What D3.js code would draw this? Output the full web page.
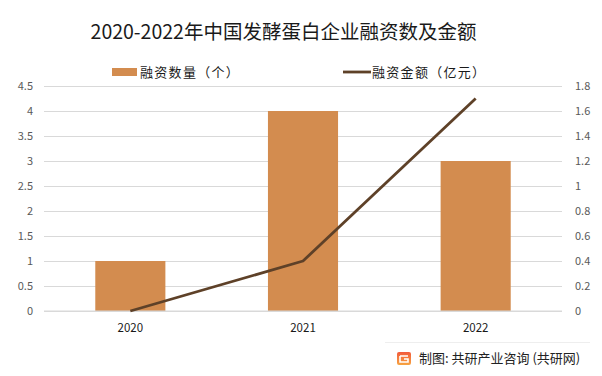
<!DOCTYPE html>
<html><head><meta charset="utf-8">
<script src="https://cdn.jsdelivr.net/npm/d3@7"></script>
<style>body{margin:0;background:#fff}svg{display:block}</style>
</head><body><svg id="c" width="602" height="376"></svg>
<script>
const categories = ["2020", "2021", "2022"];
const counts = [1, 4, 3];
const amounts = [0, 0.4, 1.7];
const leftTicks = [0, 0.5, 1, 1.5, 2, 2.5, 3, 3.5, 4, 4.5];
const rightTicks = [0, 0.2, 0.4, 0.6, 0.8, 1, 1.2, 1.4, 1.6, 1.8];
const title = "2020-2022年中国发酵蛋白企业融资数及金额";
const seriesNames = ["融资数量（个）", "融资金额（亿元）"];
const footer = "制图: 共研产业咨询 (共研网)";

const font = "'Microsoft YaHei','Noto Sans CJK SC','DejaVu Sans',sans-serif";
const svg = d3.select("#c");
const m = {l: 44, r: 562, t: 86, b: 311};
const x = d3.scaleBand().domain(categories).range([m.l, m.r]).paddingInner(0.594).paddingOuter(0.297);
const yL = d3.scaleLinear().domain([0, 4.5]).range([m.b, m.t]);
const yR = d3.scaleLinear().domain([0, 1.8]).range([m.b, m.t]);

// gridlines + left axis
const gl = svg.append("g").attr("transform", `translate(${m.l},0)`)
  .call(d3.axisLeft(yL).tickValues(leftTicks).tickSize(-(m.r - m.l)).tickPadding(11).tickFormat(d3.format("")));
gl.select(".domain").remove();
gl.selectAll(".tick line").attr("stroke", "#d9d9d9").attr("stroke-width", 1);
gl.selectAll(".tick text").attr("fill", "#595959").style("font-size", "11px").style("font-family", font);

const gr = svg.append("g").attr("transform", `translate(${m.r},0)`)
  .call(d3.axisRight(yR).tickValues(rightTicks).tickSize(0).tickPadding(13).tickFormat(d3.format("")));
gr.select(".domain").remove();
gr.selectAll(".tick text").attr("fill", "#595959").style("font-size", "11px").style("font-family", font);

// bars
svg.append("g").selectAll("rect").data(categories).join("rect")
  .attr("x", d => x(d)).attr("width", x.bandwidth())
  .attr("y", (d, i) => yL(counts[i])).attr("height", (d, i) => yL(0) - yL(counts[i]))
  .attr("fill", "#D38C4F");

// baseline
svg.append("line").attr("x1", m.l).attr("x2", m.r).attr("y1", yL(0)).attr("y2", yL(0)).attr("stroke", "#d9d9d9");

// x axis
const gx = svg.append("g").attr("transform", `translate(0,${m.b})`)
  .call(d3.axisBottom(x).tickSize(0).tickPadding(13));
gx.select(".domain").remove();
gx.selectAll(".tick text").attr("fill", "#1a1a1a").style("font-size", "11.5px").style("font-family", font);

// line
const line = d3.line().x((d, i) => x(categories[i]) + x.bandwidth() / 2).y(d => yR(d));
svg.append("path").datum(amounts).attr("d", line).attr("fill", "none")
  .attr("stroke", "#5E4128").attr("stroke-width", 2.8).attr("stroke-linejoin", "round");

// title
svg.append("text").attr("x", 283.5).attr("y", 39).attr("text-anchor", "middle")
  .attr("fill", "#1a1a1a").style("font-size", "19.5px").style("font-family", font).text(title);

// legend
svg.append("rect").attr("x", 112).attr("y", 68).attr("width", 25).attr("height", 8).attr("fill", "#D38C4F");
svg.append("text").attr("x", 140).attr("y", 77).attr("fill", "#1a1a1a").style("font-size", "13px")
  .style("letter-spacing", "1.3px").style("font-family", font).text(seriesNames[0]);
svg.append("line").attr("x1", 343).attr("x2", 371).attr("y1", 72).attr("y2", 72).attr("stroke", "#5E4128").attr("stroke-width", 2.8);
svg.append("text").attr("x", 372).attr("y", 77).attr("fill", "#1a1a1a").style("font-size", "13px")
  .style("letter-spacing", "1.3px").style("font-family", font).text(seriesNames[1]);

// footer
svg.append("line").attr("x1", 385).attr("x2", 590).attr("y1", 342.5).attr("y2", 342.5).attr("stroke", "#eeeeee");
const grad = svg.append("defs").append("linearGradient").attr("id", "lg").attr("x1", 0).attr("y1", 0).attr("x2", 0).attr("y2", 1);
grad.append("stop").attr("offset", 0).attr("stop-color", "#f25a3c");
grad.append("stop").attr("offset", 1).attr("stop-color", "#f7a440");
const ic = svg.append("g").attr("transform", "translate(397,352)");
ic.append("rect").attr("width", 14).attr("height", 13).attr("rx", 2).attr("fill", "url(#lg)");
ic.append("path").attr("d", "M3,4 H11 M3,4 V10 H11 V7 H7").attr("stroke", "#fff").attr("stroke-width", 1.6).attr("fill", "none");
svg.append("text").attr("x", 419).attr("y", 363).attr("fill", "#222").style("font-size", "13px").style("font-family", font).text(footer);
</script></body></html>
